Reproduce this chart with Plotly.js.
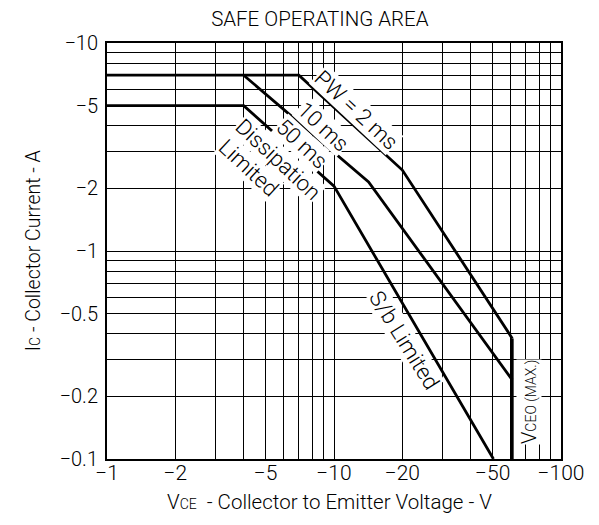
<!DOCTYPE html>
<html>
<head>
<meta charset="utf-8">
<script src="https://cdn.plot.ly/plotly-3.0.1.min.js"></script>
<style>html,body{margin:0;padding:0;background:#fff}#chart{width:599px;height:525px}</style>
</head>
<body>
<div id="chart"></div>
<script>
// Data (magnitudes; axes are labelled negative)
var pw2msV = [1, 7, 20, 61];
var pw2msI = [7, 7, 2.45, 0.38];
var ms10V = [4, 14.2, 61];
var ms10I = [7, 2.15, 0.24];
var dissV = [1, 4, 10, 50.4];
var dissI = [5, 5, 2.05, 0.1];
var vceoV = [61, 61];
var vceoI = [0.38, 0.1];

var xGrid = [1,2,3,4,5,6,7,8,9,10,20,30,40,50,60,70,80,90,100];
var xLabeled = {1:'\u22121',2:'\u22122',5:'\u22125',10:'\u221210',20:'\u221220',50:'\u221250',100:'\u2212100'};
var yGrid = [0.1,0.2,0.3,0.4,0.5,0.6,0.7,0.8,0.9,1,2,3,4,5,6,7,8,9,10];
var yLabeled = {0.1:'\u22120.1',0.2:'\u22120.2',0.5:'\u22120.5',1:'\u22121',2:'\u22122',5:'\u22125',10:'\u221210'};

var xText = xGrid.map(function(v){return xLabeled[v] || '';});
var yText = yGrid.map(function(v){return yLabeled[v] || '';});

var FONT = 'Roboto, Liberation Sans, Arial, sans-serif';
var W = 300;
var lineStyle = {color:'#000', width:2.8};

var traces = [
  {x:pw2msV, y:pw2msI, mode:'lines', line:lineStyle, hoverinfo:'skip'},
  {x:ms10V, y:ms10I, mode:'lines', line:lineStyle, hoverinfo:'skip'},
  {x:dissV, y:dissI, mode:'lines', line:lineStyle, hoverinfo:'skip'},
  {x:vceoV, y:vceoI, mode:'lines', line:lineStyle, hoverinfo:'skip'}
];

function ann(text, xl, yl, angle, size){
  return {text:text, x:xl, y:yl, xref:'x', yref:'y', showarrow:false,
          textangle:angle, bgcolor:'#fff', borderpad:0,
          font:{family:FONT, size:size, color:'#000', weight:W}};
}

var layout = {
  width:599, height:525,
  margin:{l:107, r:38, t:43, b:66},
  paper_bgcolor:'#fff', plot_bgcolor:'#fff',
  showlegend:false,
  font:{family:FONT, color:'#000', weight:W},
  title:{text:'SAFE OPERATING AREA', x:0.534, xanchor:'center', y:0.965, yanchor:'middle',
         font:{family:FONT, size:20.5, color:'#000', weight:W}},
  xaxis:{type:'log', range:[0,2], tickmode:'array', tickvals:xGrid, ticktext:xText,
         showgrid:true, gridcolor:'#000', gridwidth:1, zeroline:false,
         showline:true, linecolor:'#000', linewidth:2, mirror:true, ticks:'',
         ticklabelstandoff:-6,
         tickfont:{family:FONT, size:21, color:'#000', weight:W}},
  yaxis:{type:'log', range:[-1,1], tickmode:'array', tickvals:yGrid, ticktext:yText,
         showgrid:true, gridcolor:'#000', gridwidth:1, zeroline:false,
         showline:true, linecolor:'#000', linewidth:2, mirror:true, ticks:'',
         ticklabelstandoff:3,
         tickfont:{family:FONT, size:20, color:'#000', weight:W}},
  annotations:[
    {text:'V<span style="font-size:14px">CE</span>  - Collector to Emitter Voltage - V', x:0.491, y:-0.1034,
     xref:'paper', yref:'paper', showarrow:false, xanchor:'center', yanchor:'middle',
     font:{family:FONT, size:20.5, color:'#000', weight:W}},
    {text:'I<span style="font-size:14px">C</span> - Collector Current - A', x:-0.163, y:0.502,
     xref:'paper', yref:'paper', showarrow:false, xanchor:'center', yanchor:'middle', textangle:-90,
     font:{family:FONT, size:19.5, color:'#000', weight:W}},
    ann('PW = 2 ms', 1.095, 0.678, 43, 22),
    ann('10 ms', 0.951, 0.598, 43, 22),
    ann('50 ms', 0.857, 0.518, 43, 22),
    ann('Dissipation', 0.755, 0.442, 43, 22),
    ann('Limited', 0.627, 0.399, 43, 22),
    ann('S/b Limited', 1.311, -0.428, 58, 22),
    ann('V<span style="font-size:14px">CEO (MAX.)</span>', 1.859, -0.726, -90, 20)
  ]
};

Plotly.newPlot('chart', traces, layout, {displayModeBar:false, staticPlot:true});
</script>
</body>
</html>
